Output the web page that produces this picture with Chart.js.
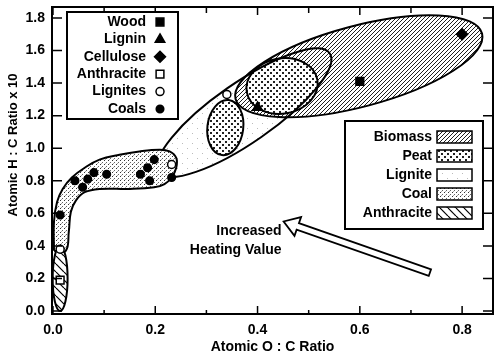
<!DOCTYPE html>
<html>
<head>
<meta charset="utf-8">
<script src="https://cdn.jsdelivr.net/npm/chart.js@4.4.0/dist/chart.umd.min.js"></script>
<style>
html, body { margin: 0; padding: 0; background: #fff; }
</style>
</head>
<body>
<canvas id="vk" width="500" height="358"></canvas>
<script>
// sample points (atomic O:C , atomic H:C x10)
const woodPts = [{x: 0.60, y: 1.41}];
const ligninPts = [{x: 0.40, y: 1.25}];
const cellulosePts = [{x: 0.80, y: 1.70}];
const anthracitePts = [{x: 0.014, y: 0.19}];
const lignitePts = [{x: 0.34, y: 1.33}, {x: 0.232, y: 0.90}, {x: 0.014, y: 0.38}];
const coalPts = [
    {x: 0.014, y: 0.59}, {x: 0.043, y: 0.80}, {x: 0.058, y: 0.76}, {x: 0.068, y: 0.81},
    {x: 0.080, y: 0.85}, {x: 0.105, y: 0.84}, {x: 0.171, y: 0.84}, {x: 0.185, y: 0.88},
    {x: 0.189, y: 0.80}, {x: 0.198, y: 0.93}, {x: 0.232, y: 0.82}
];
const pointLabels = ['Wood', 'Lignin', 'Cellulose', 'Anthracite', 'Lignites', 'Coals'];

// region legend
const regionNames = ['Biomass', 'Peat', 'Lignite', 'Coal', 'Anthracite'];

// elliptic regions: centre + two semi-axis vectors, in axis units
const ellRegion = ['Lignite', 'Biomass', 'Peat', 'Peat', 'Anthracite'];
const ellCx = [0.374, 0.598, 0.337, 0.448, 0.014];
const ellCy = [1.218, 1.503, 1.127, 1.382, 0.20];
const ellUx = [0.167, 0.241, 0.0066, 0.069, 0.0];
const ellUy = [0.365, 0.201, 0.169, 0.038, 0.20];
const ellVx = [0.0335, 0.020, 0.0348, 0.0095, 0.0146];
const ellVy = [-0.149, -0.240, -0.0133, -0.167, 0.0];

// coal band outline
const coalBandX = [0.002, 0.002, 0.008, 0.019, 0.037, 0.062, 0.091, 0.130, 0.169, 0.208, 0.228, 0.241,
    0.241, 0.232, 0.218, 0.198, 0.150, 0.091, 0.062, 0.045, 0.035, 0.031, 0.025];
const coalBandY = [0.37, 0.55, 0.67, 0.75, 0.82, 0.88, 0.93, 0.96, 0.98, 0.99, 0.98, 0.94,
    0.88, 0.82, 0.78, 0.76, 0.75, 0.75, 0.73, 0.68, 0.61, 0.49, 0.37];

const xTicks = [0, 0.2, 0.4, 0.6, 0.8];
const xTickLabels = ['0.0', '0.2', '0.4', '0.6', '0.8'];
const xMinorTicks = [0.1, 0.3, 0.5, 0.7];
const yTicks = [0, 0.2, 0.4, 0.6, 0.8, 1.0, 1.2, 1.4, 1.6, 1.8];
const yTickLabels = ['0.0', '0.2', '0.4', '0.6', '0.8', '1.0', '1.2', '1.4', '1.6', '1.8'];

// arrow annotation
const arrowFrom = {x: 0.737, y: 0.236};
const arrowTo = {x: 0.451, y: 0.55};
const arrowText = ['Increased', 'Heating Value'];

const FONT = "'Liberation Sans', Arial, Helvetica, sans-serif";
Chart.defaults.font.family = FONT;
Chart.defaults.color = '#000';

const canvas = document.getElementById('vk');
const ctx = canvas.getContext('2d');

function makePattern(w, h, draw) {
    const c = document.createElement('canvas');
    c.width = w; c.height = h;
    const g = c.getContext('2d');
    g.fillStyle = '#fff';
    g.fillRect(0, 0, w, h);
    draw(g);
    return ctx.createPattern(c, 'repeat');
}
function px(g, pts, col) {
    g.fillStyle = col;
    pts.forEach(p => g.fillRect(p[0], p[1], 1, 1));
}

const patterns = {
    Biomass: makePattern(4, 4, g => px(g, [[0, 1], [1, 0], [2, 3], [3, 2]], '#1e1e1e')),
    Peat: makePattern(6, 6, g => { g.fillStyle = '#222'; g.fillRect(0, 0, 2, 2); g.fillRect(3, 3, 2, 2); }),
    Lignite: makePattern(10, 10, g => px(g, [[2, 3], [7, 8]], '#bbb')),
    Coal: makePattern(4, 4, g => { px(g, [[0, 0]], '#333'); px(g, [[2, 2]], '#666'); px(g, [[1, 3]], '#aaa'); }),
    Anthracite: makePattern(8, 8, g => {
        g.strokeStyle = '#000'; g.lineWidth = 1.2;
        [-8, 0, 8].forEach(k => { g.beginPath(); g.moveTo(k, 0); g.lineTo(k + 8, 8); g.stroke(); });
    })
};

function ellipsePath(c, xs, ys, i) {
    const cx = xs.getPixelForValue(ellCx[i]), cy = ys.getPixelForValue(ellCy[i]);
    const ux = xs.getPixelForValue(ellCx[i] + ellUx[i]) - cx;
    const uy = ys.getPixelForValue(ellCy[i] + ellUy[i]) - cy;
    const vx = xs.getPixelForValue(ellCx[i] + ellVx[i]) - cx;
    const vy = ys.getPixelForValue(ellCy[i] + ellVy[i]) - cy;
    c.save();
    c.transform(ux, uy, vx, vy, cx, cy);
    c.beginPath();
    c.arc(0, 0, 1, 0, Math.PI * 2);
    c.restore();
}

const regionPlugin = {
    id: 'regions',
    beforeDatasetsDraw(chart) {
        const c = chart.ctx, a = chart.chartArea;
        const xs = chart.scales.x, ys = chart.scales.y;
        c.save();
        c.beginPath();
        c.rect(a.left, a.top, a.right - a.left, a.bottom - a.top);
        c.clip();
        for (let i = 0; i < ellRegion.length; i++) {
            ellipsePath(c, xs, ys, i);
            c.fillStyle = patterns[ellRegion[i]];
            c.fill();
        }
        c.strokeStyle = '#000';
        c.lineWidth = 2;
        for (let i = 0; i < ellRegion.length; i++) {
            ellipsePath(c, xs, ys, i);
            c.stroke();
        }
        c.restore();
    }
};

const framePlugin = {
    id: 'frame',
    afterDatasetsDraw(chart) {
        const c = chart.ctx, a = chart.chartArea;
        const xs = chart.scales.x, ys = chart.scales.y;
        c.save();
        c.strokeStyle = '#000';

        // arrow
        const tx = xs.getPixelForValue(arrowFrom.x), ty = ys.getPixelForValue(arrowFrom.y);
        const hx = xs.getPixelForValue(arrowTo.x), hy = ys.getPixelForValue(arrowTo.y);
        const len = Math.hypot(hx - tx, hy - ty);
        const dx = (hx - tx) / len, dy = (hy - ty) / len;
        const nx = -dy, ny = dx;
        const bx = hx - dx * 15, by = hy - dy * 15;
        c.beginPath();
        c.moveTo(tx + nx * 3.5, ty + ny * 3.5);
        c.lineTo(bx + nx * 3.5, by + ny * 3.5);
        c.lineTo(bx + nx * 10, by + ny * 10);
        c.lineTo(hx, hy);
        c.lineTo(bx - nx * 10, by - ny * 10);
        c.lineTo(bx - nx * 3.5, by - ny * 3.5);
        c.lineTo(tx - nx * 3.5, ty - ny * 3.5);
        c.closePath();
        c.fillStyle = '#fff';
        c.fill();
        c.lineWidth = 1.8;
        c.stroke();

        c.fillStyle = '#000';
        c.font = 'bold 14px ' + FONT;
        c.textAlign = 'right';
        c.textBaseline = 'middle';
        c.fillText(arrowText[0], hx - 2, ys.getPixelForValue(0.49));
        c.fillText(arrowText[1], hx - 2, ys.getPixelForValue(0.375));

        // frame
        c.lineWidth = 2;
        c.strokeRect(a.left, a.top, a.right - a.left, a.bottom - a.top);

        // inward ticks
        c.lineWidth = 1.5;
        c.beginPath();
        xTicks.concat(xMinorTicks).forEach(v => {
            const p = xs.getPixelForValue(v);
            const major = xTicks.includes(v);
            c.moveTo(p, a.bottom); c.lineTo(p, a.bottom - (major ? 8 : 4));
            c.moveTo(p, a.top); c.lineTo(p, a.top + (major ? 8 : 6));
        });
        yTicks.forEach(v => {
            const p = ys.getPixelForValue(v);
            c.moveTo(a.left, p); c.lineTo(a.left + 10, p);
            c.moveTo(a.right, p); c.lineTo(a.right - 10, p);
        });
        c.stroke();

        // y title
        c.save();
        c.translate(13, 145);
        c.rotate(-Math.PI / 2);
        c.textAlign = 'center';
        c.font = 'bold 13px ' + FONT;
        c.fillText('Atomic H : C Ratio x 10', 0, 0);
        c.restore();

        // sample legend
        c.fillStyle = '#fff';
        c.fillRect(67, 12, 111, 107);
        c.lineWidth = 2;
        c.strokeRect(67, 12, 111, 107);
        c.font = 'bold 14px ' + FONT;
        c.textAlign = 'right';
        chart.data.datasets.forEach(ds => {
            const i = pointLabels.indexOf(ds.label);
            if (i < 0) return;
            const y = 22 + i * 17.4;
            c.fillStyle = '#000';
            c.fillText(ds.label, 146, y);
            c.fillStyle = ds.pointBackgroundColor;
            c.lineWidth = 1.5;
            Chart.helpers.drawPoint(c, {pointStyle: ds.pointStyle, radius: ds.pointRadius, rotation: 0, borderWidth: 1.5}, 160, y);
        });

        // region legend
        c.fillStyle = '#fff';
        c.fillRect(345, 121, 138, 108);
        c.lineWidth = 2;
        c.strokeRect(345, 121, 138, 108);
        regionNames.forEach((name, i) => {
            const y = 137 + i * 19;
            c.fillStyle = '#000';
            c.fillText(name, 432, y);
            c.fillStyle = patterns[name];
            c.fillRect(437, y - 6, 35, 12);
            c.lineWidth = 1.5;
            c.strokeRect(437, y - 6, 35, 12);
        });
        c.restore();
    }
};

const bandPts = coalBandX.map((x, i) => ({x: x, y: coalBandY[i]}));
bandPts.push(bandPts[0]);

const pointStyles = ['rect', 'triangle', 'rectRot', 'rect', 'circle', 'circle'];
const pointSizes = [5.5, 5.5, 5.5, 5.5, 4, 3.8];
const pointFills = ['#000', '#000', '#000', '#fff', '#fff', '#000'];
const pointData = [woodPts, ligninPts, cellulosePts, anthracitePts, lignitePts, coalPts];

const datasets = pointData.map((d, i) => ({
    label: pointLabels[i],
    data: d,
    pointStyle: pointStyles[i],
    pointRadius: pointSizes[i],
    pointBackgroundColor: pointFills[i],
    pointBorderColor: '#000',
    pointBorderWidth: 1.5,
    order: 0
}));
datasets.push({
    type: 'line',
    label: 'Coal',
    data: bandPts,
    fill: 'shape',
    backgroundColor: patterns.Coal,
    borderColor: '#000',
    borderWidth: 2,
    pointRadius: 0,
    tension: 0.4,
    order: 10
});

new Chart(ctx, {
    type: 'scatter',
    data: {datasets: datasets},
    options: {
        responsive: false,
        animation: false,
        devicePixelRatio: 1,
        layout: {padding: {top: 3, right: 5, left: 0, bottom: 0}},
        plugins: {legend: {display: false}, tooltip: {enabled: false}},
        scales: {
            x: {
                type: 'linear',
                min: -0.0019,
                max: 0.8604,
                afterBuildTicks: s => { s.ticks = xTicks.map(v => ({value: v})); },
                afterFit: s => { s.height = 44; s.paddingLeft = 0; s.paddingRight = 0; },
                grid: {display: false, drawTicks: false},
                border: {display: false},
                ticks: {
                    padding: 8,
                    autoSkip: false,
                    maxRotation: 0,
                    font: {size: 14, weight: 'bold'},
                    callback: (v, i) => xTickLabels[i]
                },
                title: {
                    display: true,
                    text: 'Atomic O : C Ratio',
                    font: {size: 14, weight: 'bold'},
                    padding: {top: 0, bottom: 2}
                }
            },
            y: {
                type: 'linear',
                min: -0.018,
                max: 1.867,
                afterBuildTicks: s => { s.ticks = yTicks.map(v => ({value: v})); },
                afterFit: s => { s.width = 52; s.paddingTop = 0; s.paddingBottom = 0; },
                grid: {display: false, drawTicks: false},
                border: {display: false},
                ticks: {
                    padding: 7,
                    autoSkip: false,
                    font: {size: 14, weight: 'bold'},
                    callback: (v, i) => yTickLabels[i]
                }
            }
        }
    },
    plugins: [regionPlugin, framePlugin]
});
</script>
</body>
</html>
